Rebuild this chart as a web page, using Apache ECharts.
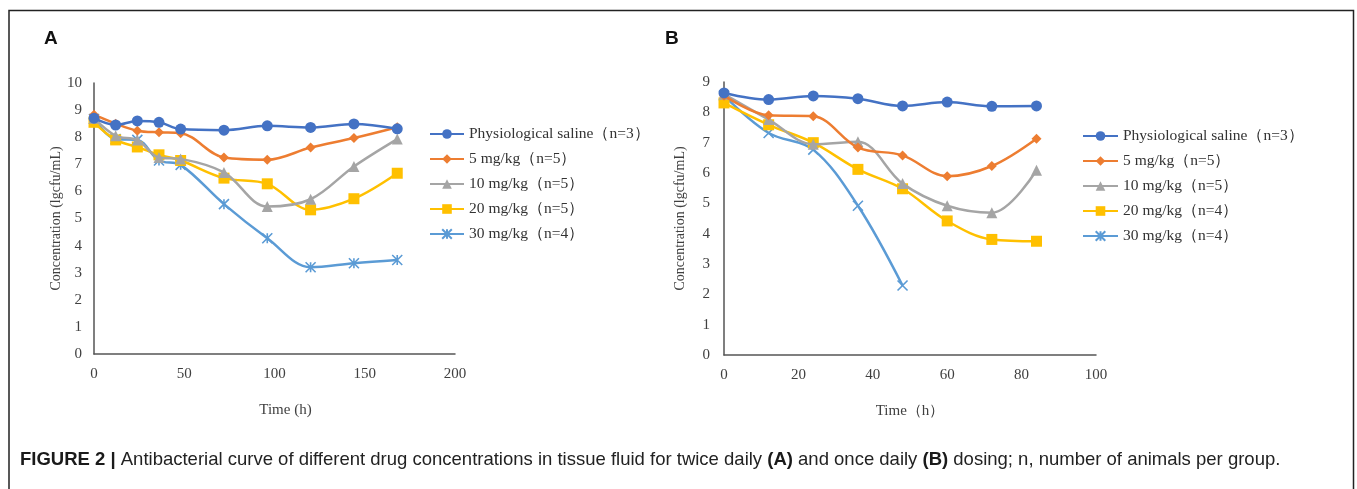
<!DOCTYPE html>
<html><head><meta charset="utf-8">
<script src="https://cdn.jsdelivr.net/npm/echarts@6/dist/echarts.min.js"></script>
<style>html,body{margin:0;padding:0;background:#fff}#c{width:1357px;height:489px}</style>
</head><body><div id="c"></div>
<script>
// ---- Data ----
const timesA = [0, 12, 24, 36, 48, 72, 96, 120, 144, 168];
const salineA = [8.7, 8.45, 8.6, 8.55, 8.3, 8.26, 8.42, 8.36, 8.49, 8.31];
const mg5A    = [8.83, 8.5, 8.24, 8.18, 8.15, 7.25, 7.17, 7.62, 7.97, 8.37];
const mg10A   = [8.7, 8.05, 7.9, 7.25, 7.2, 6.7, 5.44, 5.71, 6.92, 7.93];
const mg20A   = [8.55, 7.9, 7.64, 7.35, 7.14, 6.49, 6.28, 5.32, 5.73, 6.67];
const mg30A   = [8.67, 7.93, 7.9, 7.14, 6.98, 5.53, 4.27, 3.2, 3.35, 3.47];
const namesA  = ['Physiological saline（n=3）', '5 mg/kg（n=5）', '10 mg/kg（n=5）', '20 mg/kg（n=5）', '30 mg/kg（n=4）'];

const timesB = [0, 12, 24, 36, 48, 60, 72, 84];
const salineB = [8.64, 8.42, 8.54, 8.45, 8.21, 8.34, 8.2, 8.21];
const mg5B    = [8.55, 7.9, 7.87, 6.84, 6.58, 5.89, 6.23, 7.13];
const mg10B   = [8.6, 7.76, 6.95, 7.03, 5.65, 4.92, 4.69, 6.09];
const mg20B   = [8.31, 7.59, 7.0, 6.12, 5.48, 4.42, 3.81, 3.75];
const mg30B   = [8.55, 7.32, 6.77, 4.92, 2.29];
const namesB  = ['Physiological saline（n=3）', '5 mg/kg（n=5）', '10 mg/kg（n=5）', '20 mg/kg（n=4）', '30 mg/kg（n=4）'];

const ticksA_x = [0, 50, 100, 150, 200];
const ticksB_x = [0, 20, 40, 60, 80, 100];

// ---- Styling ----
const colors = ['#4472C4', '#ED7D31', '#A5A5A5', '#FFC000', '#5B9BD5'];
const serif = 'Liberation Serif, Times New Roman, serif';
const asterisk = 'path://M0,0L10,10M10,0L0,10M5,0L5,10';
const cross = 'path://M0,0L10,10M10,0L0,10';
const symbolsA = ['circle', 'diamond', 'triangle', 'rect', asterisk];
const symbolsB = ['circle', 'diamond', 'triangle', 'rect', cross];
const sizes = [11, 10, 11, 11, 10];

function pairs(t, v) { return v.map((y, i) => [t[i], y]); }

function mkSeries(names, times, arrs, symbols, xi) {
  return arrs.map((arr, i) => ({
    name: names[i], type: 'line', xAxisIndex: xi, yAxisIndex: xi,
    data: pairs(times, arr), smooth: 0.35,
    symbol: symbols[i], symbolSize: sizes[i], showSymbol: true,
    lineStyle: { color: colors[i], width: 2.5 },
    itemStyle: { color: colors[i], borderColor: colors[i], borderWidth: i === 4 ? 1.6 : 0 },
    emphasis: { disabled: true }, animation: false, z: 10 - i
  }));
}

const axisLine = { show: true, lineStyle: { color: '#555', width: 1.5 } };
const labelStyle = { fontFamily: serif, fontSize: 15, color: '#404040' };

const option = {
  animation: false,
  backgroundColor: '#fff',
  grid: [
    { left: 94, top: 83, width: 361, height: 271 },
    { left: 724, top: 82, width: 372, height: 273 }
  ],
  xAxis: [
    { type: 'value', gridIndex: 0, min: ticksA_x[0], max: ticksA_x[ticksA_x.length - 1], interval: 50,
      axisLine, axisTick: { show: false }, splitLine: { show: false },
      axisLabel: Object.assign({ margin: 13 }, labelStyle),
      name: 'Time (h)', nameLocation: 'middle', nameGap: 49,
      nameTextStyle: { fontFamily: serif, fontSize: 15, color: '#404040', padding: [0, 0, 0, 22] } },
    { type: 'value', gridIndex: 1, min: ticksB_x[0], max: ticksB_x[ticksB_x.length - 1], interval: 20,
      axisLine, axisTick: { show: false }, splitLine: { show: false },
      axisLabel: Object.assign({ margin: 13 }, labelStyle),
      name: 'Time（h）', nameLocation: 'middle', nameGap: 49,
      nameTextStyle: { fontFamily: serif, fontSize: 15, color: '#404040' } }
  ],
  yAxis: [
    { type: 'value', gridIndex: 0, min: 0, max: 10, interval: 1,
      axisLine, axisTick: { show: false }, splitLine: { show: false },
      axisLabel: Object.assign({ margin: 12 }, labelStyle),
      name: 'Concentration (lgcfu/mL)', nameLocation: 'middle', nameGap: 31,
      nameTextStyle: { fontFamily: serif, fontSize: 14, color: '#404040' } },
    { type: 'value', gridIndex: 1, min: 0, max: 9, interval: 1,
      axisLine, axisTick: { show: false }, splitLine: { show: false },
      axisLabel: Object.assign({ margin: 14 }, labelStyle),
      name: 'Concentration (lgcfu/mL)', nameLocation: 'middle', nameGap: 37,
      nameTextStyle: { fontFamily: serif, fontSize: 14, color: '#404040' } }
  ],
  legend: [
    { data: namesA, left: 429, top: 126, padding: 0, orient: 'vertical', itemWidth: 34, itemHeight: 12, itemGap: 9,
      textStyle: { fontFamily: serif, fontSize: 15.5, color: '#333' }, selectedMode: false },
    { data: namesB.map(n => n), left: 1082, top: 128, padding: 0, orient: 'vertical', itemWidth: 35, itemHeight: 12, itemGap: 9,
      textStyle: { fontFamily: serif, fontSize: 15.5, color: '#333' }, selectedMode: false }
  ],
  series: [].concat(
    mkSeries(namesA, timesA, [salineA, mg5A, mg10A, mg20A, mg30A], symbolsA, 0),
    mkSeries(namesB, timesB, [salineB, mg5B, mg10B, mg20B, mg30B], symbolsB, 1)
  ),
  graphic: [
    { type: 'polyline', shape: { points: [[9, 489], [9, 10.5], [1353.5, 10.5], [1353.5, 489]] },
      style: { stroke: '#222', lineWidth: 1.5, fill: null }, silent: true },
    { type: 'text', left: 44, top: 29, style: { text: 'A', fontFamily: 'Liberation Sans, Arial, sans-serif', fontWeight: 'bold', fontSize: 19, fill: '#111' } },
    { type: 'text', left: 665, top: 29, style: { text: 'B', fontFamily: 'Liberation Sans, Arial, sans-serif', fontWeight: 'bold', fontSize: 19, fill: '#111' } },
    { type: 'text', left: 20, top: 450, style: {
        text: '{b|FIGURE 2 |} Antibacterial curve of different drug concentrations in tissue fluid for twice daily {b|(A)} and once daily {b|(B)} dosing; n, number of animals per group.',
        fontFamily: 'Liberation Sans, Arial, sans-serif', fontSize: 18.5, fill: '#222',
        rich: { b: { fontFamily: 'Liberation Sans, Arial, sans-serif', fontWeight: 'bold', fontSize: 18.5, fill: '#1a1a1a' } }
      } }
  ]
};
const chart = echarts.init(document.getElementById('c'), null, { renderer: 'canvas' });
chart.setOption(option);
</script></body></html>
